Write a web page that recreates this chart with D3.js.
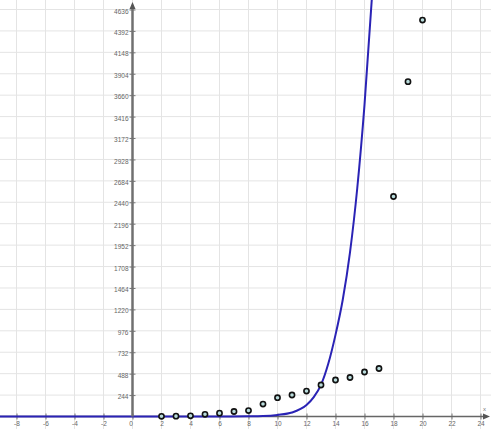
<!DOCTYPE html>
<html><head><meta charset="utf-8">
<script src="https://cdn.jsdelivr.net/npm/d3@7"></script>
<style>html,body{margin:0;padding:0;background:#fff;}svg{display:block;}</style>
</head><body>
<script>
// Data
const pointX = [2, 3, 4, 5, 6, 7, 8, 9, 10, 11, 12, 13, 14, 15, 16, 17, 18, 19, 20];
const pointY = [2, 4, 8, 25, 38, 57, 68, 142, 214, 245, 290, 359, 416, 444, 507, 547, 2506, 3814, 4516];
const curveX = [-9.3, 6, 8, 9, 10, 11, 12, 12.5, 13, 13.5, 14, 14.5, 15, 15.5, 16, 16.5, 16.8];
const curveY = [0, 1, 3, 6, 18, 45, 130, 220, 360, 600, 930, 1330, 1870, 2600, 3550, 4744, 5550];
const xTicks = [-8, -6, -4, -2, 0, 2, 4, 6, 8, 10, 12, 14, 16, 18, 20, 22, 24];
const yTicks = [244, 488, 732, 976, 1220, 1464, 1708, 1952, 2196, 2440, 2684, 2928, 3172, 3416, 3660, 3904, 4148, 4392, 4636];

const W = 491, H = 429;
const x = d3.scaleLinear().domain([-132.5 / 14.5, (W - 132.5) / 14.5]).range([0, W]);
const y = d3.scaleLinear().domain([0, 4636]).range([416.5, 9.5]);

const svg = d3.select("body").append("svg").attr("width", W).attr("height", H);

// grid
svg.append("g").selectAll("line").data(xTicks).join("line")
  .attr("x1", d => x(d)).attr("x2", d => x(d)).attr("y1", 0).attr("y2", H)
  .attr("stroke", "#e4e4e4").attr("stroke-width", 1);
svg.append("g").selectAll("line").data(yTicks).join("line")
  .attr("x1", 0).attr("x2", W).attr("y1", d => y(d)).attr("y2", d => y(d))
  .attr("stroke", "#e4e4e4").attr("stroke-width", 1);

// x axis
const xAxis = d3.axisBottom(x).tickValues(xTicks).tickSize(3).tickFormat(d => d);
const gx = svg.append("g").attr("transform", `translate(0,${y(0)})`).call(xAxis);
gx.select(".domain").remove();
gx.selectAll(".tick line").attr("stroke", "#777").attr("y1", -3).attr("y2", 3);
gx.selectAll(".tick text").attr("y", 5).attr("fill", "#666")
  .style("font", "6.5px 'Liberation Sans', Arial, sans-serif");
gx.selectAll(".tick").filter(d => d === 0).select("text").attr("dx", -2);
svg.append("line").attr("x1", 0).attr("x2", W - 4).attr("y1", y(0)).attr("y2", y(0))
  .attr("stroke", "#666").attr("stroke-width", 1.5);
svg.append("path").attr("d", `M${W - 1},${y(0)} L${W - 8},${y(0) - 3} L${W - 8},${y(0) + 3} Z`).attr("fill", "#555");
svg.append("text").attr("x", 483).attr("y", 411).attr("fill", "#777")
  .style("font", "6px 'Liberation Sans', Arial, sans-serif").text("x");

// curve
const line = d3.line().x((d, i) => x(curveX[i])).y((d, i) => y(curveY[i])).curve(d3.curveMonotoneX);
svg.append("path").datum(curveX).attr("d", line).attr("fill", "none")
  .attr("stroke", "#2a23b5").attr("stroke-width", 2);

// y axis
const yAxis = d3.axisLeft(y).tickValues(yTicks).tickSize(3).tickFormat(d => d);
const gy = svg.append("g").attr("transform", `translate(${x(0)},0)`).call(yAxis);
gy.select(".domain").remove();
gy.selectAll(".tick line").attr("stroke", "#777").attr("x1", -3).attr("x2", 3);
gy.selectAll(".tick text").attr("x", -4).attr("dy", "0.55em").attr("fill", "#666")
  .style("font", "6.5px 'Liberation Sans', Arial, sans-serif");
svg.append("line").attr("x1", x(0)).attr("x2", x(0)).attr("y1", 8).attr("y2", y(0))
  .attr("stroke", "#707070").attr("stroke-width", 2.5);
svg.append("path").attr("d", `M${x(0)},2 L${x(0) - 3},9 L${x(0) + 3},9 Z`).attr("fill", "#555");

// points
svg.append("g").selectAll("circle").data(pointX).join("circle")
  .attr("cx", d => x(d)).attr("cy", (d, i) => y(pointY[i])).attr("r", 2.6)
  .attr("fill", "#b9dcdc").attr("stroke", "#111").attr("stroke-width", 1.6);
</script>
</body></html>
